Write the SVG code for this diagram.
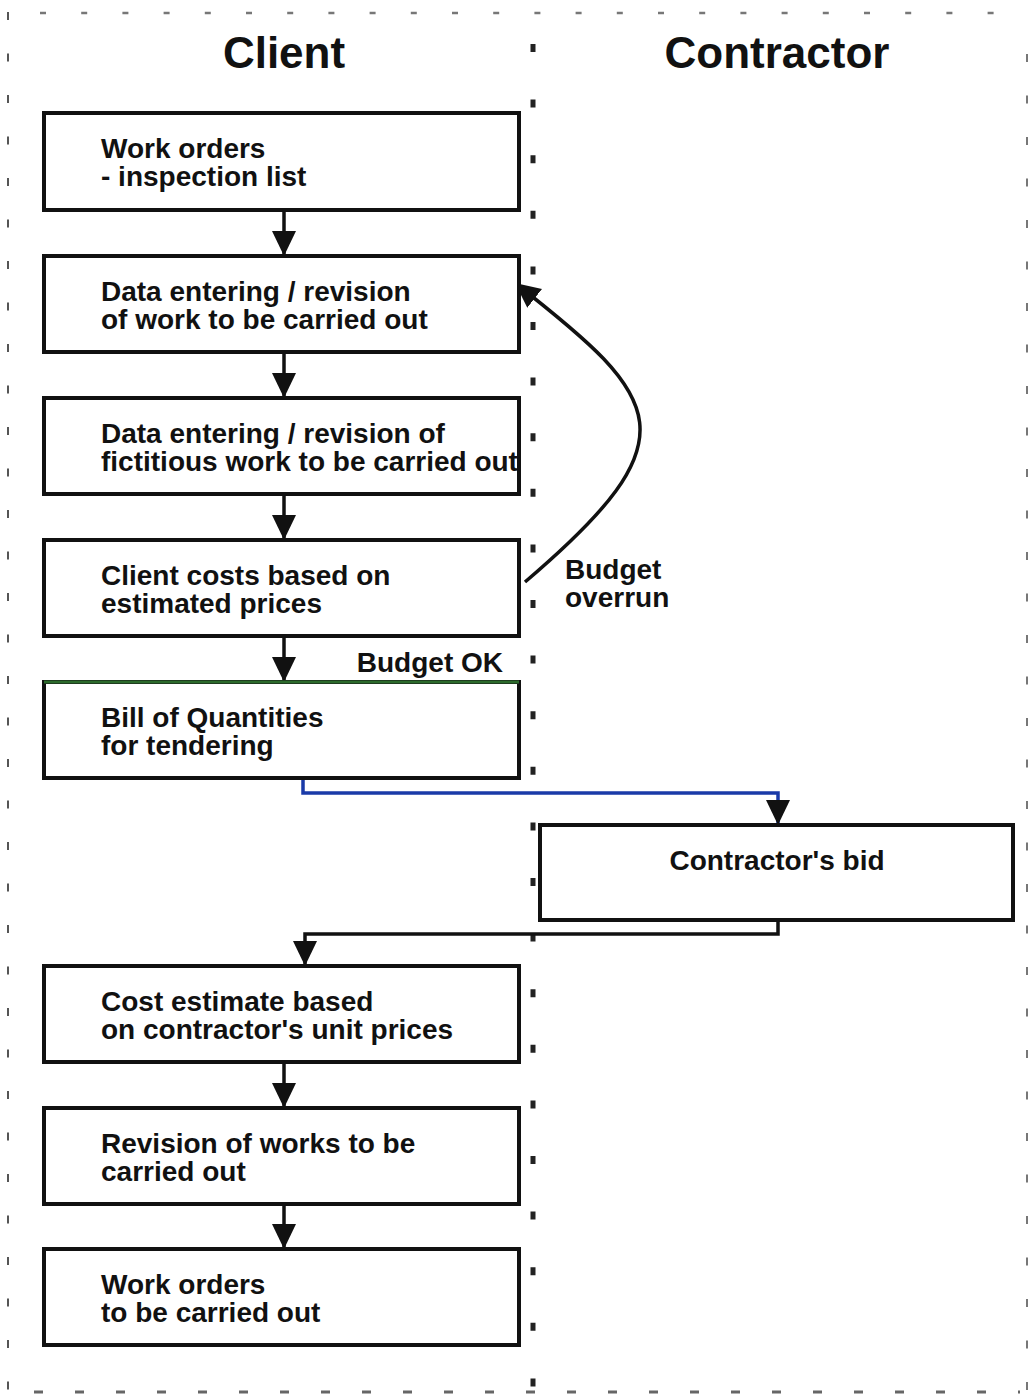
<svg xmlns="http://www.w3.org/2000/svg" width="1029" height="1395" viewBox="0 0 1029 1395">
<style>
.box{fill:#fff;stroke:#111;stroke-width:4}
.t{font-family:"Liberation Sans",Arial,sans-serif;font-weight:bold;font-size:28px;fill:#111}
.h{font-family:"Liberation Sans",Arial,sans-serif;font-weight:bold;font-size:44px;fill:#111;text-anchor:middle}
.c{fill:none;stroke:#111;stroke-width:3.5}
</style>
<defs>
<marker id="ah" markerUnits="userSpaceOnUse" markerWidth="26" markerHeight="24" refX="25" refY="12" orient="auto" viewBox="0 0 26 24">
<path d="M0,0 L25,12 L0,24 z" fill="#111"/>
</marker>
</defs>
<rect width="1029" height="1395" fill="#fff"/>
<g id="borders">
<line x1="40" y1="13" x2="1005" y2="13" stroke="#777" stroke-width="2.5" stroke-dasharray="6 35.2"/>
<line x1="8" y1="12" x2="8" y2="1390" stroke="#555" stroke-width="2" stroke-dasharray="8 33.5"/>
<line x1="1027" y1="54" x2="1027" y2="1390" stroke="#777" stroke-width="2" stroke-dasharray="8 33.5"/>
<line x1="34" y1="1392" x2="1020" y2="1392" stroke="#666" stroke-width="3" stroke-dasharray="9 32"/>
<line x1="533" y1="44" x2="533" y2="1390" stroke="#222" stroke-width="5" stroke-dasharray="8 47.6"/>
</g>
<text class="h" x="284" y="68">Client</text>
<text class="h" x="777" y="68">Contractor</text>
<g id="connectors">
<line class="c" x1="284" y1="210" x2="284" y2="256" marker-end="url(#ah)"/>
<line class="c" x1="284" y1="352" x2="284" y2="398" marker-end="url(#ah)"/>
<line class="c" x1="284" y1="494" x2="284" y2="540" marker-end="url(#ah)"/>
<line class="c" x1="284" y1="636" x2="284" y2="682" marker-end="url(#ah)"/>
<line class="c" x1="284" y1="1062" x2="284" y2="1108" marker-end="url(#ah)"/>
<line class="c" x1="284" y1="1204" x2="284" y2="1249" marker-end="url(#ah)"/>
<path class="c" d="M525,582 C694,438 665,400 515,283" marker-end="url(#ah)"/>
<path d="M303,778 V793 H778 V825" fill="none" stroke="#1a3aa8" stroke-width="3.5" marker-end="url(#ah)"/>
<path class="c" d="M778,920 V934 H305 V966" marker-end="url(#ah)"/>
<text class="t" x="503" y="672" text-anchor="end">Budget OK</text>
<text class="t" x="565" y="579">Budget</text>
<text class="t" x="565" y="607">overrun</text>
</g>
<g id="n1"><rect class="box" x="44" y="113" width="475" height="97"/>
<text class="t" x="101" y="158">Work orders</text><text class="t" x="101" y="186">- inspection list</text></g>
<g id="n2"><rect class="box" x="44" y="256" width="475" height="96"/>
<text class="t" x="101" y="301">Data entering / revision</text><text class="t" x="101" y="329">of work to be carried out</text></g>
<g id="n3"><rect class="box" x="44" y="398" width="475" height="96"/>
<text class="t" x="101" y="443">Data entering / revision of</text><text class="t" x="101" y="471">fictitious work to be carried out</text></g>
<g id="n4"><rect class="box" x="44" y="540" width="475" height="96"/>
<text class="t" x="101" y="585">Client costs based on</text><text class="t" x="101" y="613">estimated prices</text></g>
<g id="n5"><rect class="box" x="44" y="682" width="475" height="96"/>
<line x1="44" y1="682" x2="519" y2="682" stroke="#2c6a2c" stroke-width="3"/>
<text class="t" x="101" y="727">Bill of Quantities</text><text class="t" x="101" y="755">for tendering</text></g>
<g id="n6"><rect class="box" x="540" y="825" width="473" height="95"/>
<text class="t" x="777" y="870" text-anchor="middle">Contractor's bid</text></g>
<g id="n7"><rect class="box" x="44" y="966" width="475" height="96"/>
<text class="t" x="101" y="1011">Cost estimate based</text><text class="t" x="101" y="1039">on contractor's unit prices</text></g>
<g id="n8"><rect class="box" x="44" y="1108" width="475" height="96"/>
<text class="t" x="101" y="1153">Revision of works to be</text><text class="t" x="101" y="1181">carried out</text></g>
<g id="n9"><rect class="box" x="44" y="1249" width="475" height="96"/>
<text class="t" x="101" y="1294">Work orders</text><text class="t" x="101" y="1322">to be carried out</text></g>
</svg>
